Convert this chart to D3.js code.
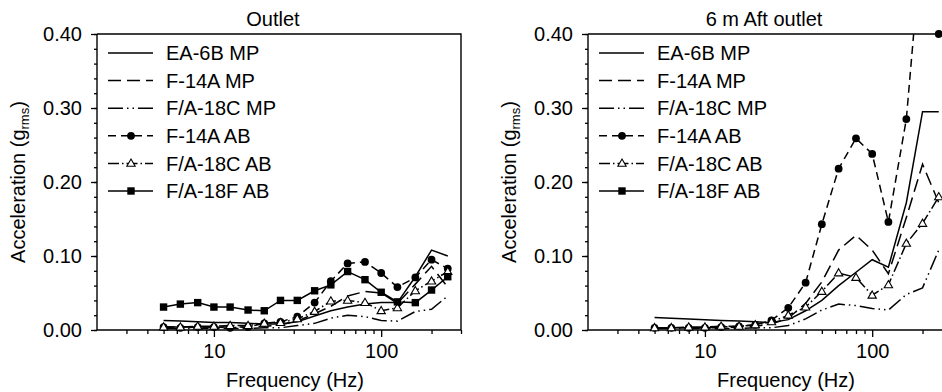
<!DOCTYPE html>
<html>
<head>
<meta charset="utf-8">
<script src="https://cdn.jsdelivr.net/npm/d3@7"></script>
<style>
  body { margin: 0; background: #fff; }
  svg { display: block; font-family: "Liberation Sans", Arial, Helvetica, sans-serif; }
</style>
</head>
<body>
<div id="chart"></div>
<script>
// 1/3 octave band centre frequencies (Hz)
var freqs = [5, 6.3, 8, 10, 12.5, 16, 20, 25, 31.5, 40, 50, 63, 80, 100, 125, 160, 200, 250];

var seriesNames = ["EA-6B MP", "F-14A MP", "F/A-18C MP", "F-14A AB", "F/A-18C AB", "F/A-18F AB"];
var panelTitles = ["Outlet", "6 m Aft outlet"];
var yTicks = [0, 0.1, 0.2, 0.3, 0.4];
var xLabelTicks = [10, 100];

// Outlet
var outletEA6BMP   = [0.013, 0.012, 0.011, 0.010, 0.010, 0.009, 0.008, 0.008, 0.011, 0.019, 0.026, 0.031, 0.035, 0.037, 0.037, 0.072, 0.108, 0.100];
var outletF14AMP   = [0.004, 0.004, 0.004, 0.004, 0.004, 0.004, 0.005, 0.007, 0.012, 0.022, 0.032, 0.046, 0.052, 0.050, 0.036, 0.062, 0.086, 0.058];
var outletFA18CMP  = [0.002, 0.002, 0.002, 0.002, 0.002, 0.002, 0.003, 0.003, 0.006, 0.009, 0.016, 0.020, 0.018, 0.013, 0.012, 0.025, 0.028, 0.046];
var outletF14AAB   = [0.004, 0.003, 0.004, 0.004, 0.003, 0.004, 0.009, 0.011, 0.018, 0.037, 0.066, 0.090, 0.092, 0.077, 0.058, 0.071, 0.095, 0.083];
var outletFA18CAB  = [0.004, 0.004, 0.005, 0.005, 0.006, 0.006, 0.009, 0.010, 0.015, 0.025, 0.039, 0.040, 0.037, 0.026, 0.030, 0.053, 0.066, 0.079];
var outletFA18FAB  = [0.031, 0.035, 0.037, 0.031, 0.031, 0.027, 0.026, 0.040, 0.040, 0.053, 0.061, 0.079, 0.068, 0.051, 0.038, 0.037, 0.054, 0.072];

// 6 m aft of outlet
var aftEA6BMP   = [0.017, 0.016, 0.015, 0.014, 0.013, 0.012, 0.011, 0.010, 0.014, 0.026, 0.040, 0.060, 0.078, 0.095, 0.085, 0.172, 0.295, 0.295];
var aftF14AMP   = [0.003, 0.003, 0.003, 0.003, 0.003, 0.004, 0.005, 0.008, 0.016, 0.036, 0.065, 0.108, 0.128, 0.108, 0.076, 0.152, 0.224, 0.172];
var aftFA18CMP  = [0.002, 0.002, 0.002, 0.002, 0.002, 0.002, 0.003, 0.003, 0.006, 0.015, 0.027, 0.035, 0.033, 0.029, 0.027, 0.048, 0.057, 0.108];
var aftF14AAB   = [0.003, 0.003, 0.003, 0.003, 0.004, 0.005, 0.007, 0.013, 0.030, 0.064, 0.143, 0.218, 0.259, 0.238, 0.146, 0.285, 0.540, 0.400];
var aftFA18CAB  = [0.003, 0.003, 0.004, 0.004, 0.005, 0.005, 0.007, 0.011, 0.020, 0.031, 0.052, 0.077, 0.071, 0.047, 0.061, 0.117, 0.144, 0.180];
var aftFA18FAB  = [];

var panelData = [
  [outletEA6BMP, outletF14AMP, outletFA18CMP, outletF14AAB, outletFA18CAB, outletFA18FAB],
  [aftEA6BMP, aftF14AMP, aftFA18CMP, aftF14AAB, aftFA18CAB, aftFA18FAB]
];

// line style per series
var seriesStyle = [
  {dash: null,               marker: null},
  {dash: "13,6",             marker: null},
  {dash: "15,4,1.5,4,1.5,4", marker: null},
  {dash: "8,5",              marker: "circle"},
  {dash: "11,3,1.5,3",       marker: "triangle"},
  {dash: null,               marker: "square"}
];

var width = 942, height = 392;
var plotTop = 34, plotBottom = 330, plotW = 364;
var panelLeft = [97, 588];
var fontFam = "'Liberation Sans', Arial, Helvetica, sans-serif";
var lw = 1.5;

var svg = d3.select("#chart").append("svg")
  .attr("width", width)
  .attr("height", height);

var y = d3.scaleLinear().domain([0, 0.4]).range([plotBottom, plotTop]);

function drawMarker(g, type, cx, cy) {
  if (type === "circle") {
    g.append("circle").attr("cx", cx).attr("cy", cy).attr("r", 3.9).attr("fill", "#000");
  } else if (type === "square") {
    g.append("rect").attr("x", cx - 3.7).attr("y", cy - 3.7).attr("width", 7.4).attr("height", 7.4).attr("fill", "#000");
  } else if (type === "triangle") {
    g.append("path")
      .attr("d", d3.symbol().type(d3.symbolTriangle).size(30)())
      .attr("transform", "translate(" + cx + "," + (cy + 0.5) + ")")
      .attr("fill", "#fff").attr("stroke", "#000").attr("stroke-width", 1.1);
  }
}

function drawPanel(p) {
  var x0 = panelLeft[p];
  var x = d3.scaleLog().domain([2, 300]).range([x0, x0 + plotW]);
  var g = svg.append("g");

  // clip for the lines
  g.append("clipPath").attr("id", "clip" + p)
    .append("rect").attr("x", x0).attr("y", plotTop).attr("width", plotW).attr("height", plotBottom - plotTop);

  // frame top / right
  g.append("path")
    .attr("d", "M" + x0 + "," + plotTop + "H" + (x0 + plotW) + "V" + plotBottom)
    .attr("fill", "none").attr("stroke", "#000").attr("stroke-width", 1.4);

  // x axis: minor ticks then major
  var minor = [3, 4, 5, 6, 7, 8, 9, 20, 30, 40, 50, 60, 70, 80, 90, 200, 300];
  var xMinor = g.append("g").attr("transform", "translate(0," + plotBottom + ")")
    .call(d3.axisBottom(x).tickValues(minor).tickSize(4).tickFormat(""));
  xMinor.select(".domain").remove();
  var xMajor = g.append("g").attr("transform", "translate(0," + plotBottom + ")")
    .call(d3.axisBottom(x).tickValues(xLabelTicks).tickSize(7).tickPadding(7).tickFormat(d3.format("d")));
  xMajor.select(".domain").attr("d", "M" + x0 + ",0H" + (x0 + plotW));

  // y axis
  var yMinor = g.append("g").attr("transform", "translate(" + x0 + ",0)")
    .call(d3.axisLeft(y).tickValues(d3.range(0, 0.401, 0.02)).tickSize(3).tickFormat(""));
  yMinor.select(".domain").remove();
  var yMajor = g.append("g").attr("transform", "translate(" + x0 + ",0)")
    .call(d3.axisLeft(y).tickValues(yTicks).tickSize(6).tickPadding(9).tickFormat(d3.format(".2f")));
  yMajor.select(".domain").attr("d", "M0," + plotTop + "V" + plotBottom);

  g.selectAll(".tick line").attr("stroke-width", 1.3);
  g.selectAll(".domain").attr("stroke-width", 1.4);
  g.selectAll(".tick text").attr("font-size", 20).attr("fill", "#000").attr("font-family", fontFam);

  // titles
  g.append("text").attr("x", x0 + plotW / 2 - 6).attr("y", 26)
    .attr("text-anchor", "middle").attr("font-size", 20).text(panelTitles[p]);
  g.append("text").attr("x", x0 + plotW / 2 + 16).attr("y", 387)
    .attr("text-anchor", "middle").attr("font-size", 20).text("Frequency (Hz)");
  var yl = g.append("text").attr("transform", "translate(" + (x0 - 72) + "," + ((plotTop + plotBottom) / 2) + ") rotate(-90)")
    .attr("text-anchor", "middle").attr("font-size", 20);
  yl.append("tspan").text("Acceleration (g");
  yl.append("tspan").attr("font-size", 13).attr("dy", 4).text("rms");
  yl.append("tspan").attr("dy", -4).text(")");

  // series
  var line = d3.line()
    .x(function(d) { return x(d[0]); })
    .y(function(d) { return y(d[1]); });

  var lines = g.append("g").attr("clip-path", "url(#clip" + p + ")");
  var marks = g.append("g");
  panelData[p].forEach(function(vals, i) {
    var pts = vals.map(function(v, k) { return [freqs[k], v]; });
    if (!pts.length) return;
    lines.append("path")
      .attr("d", line(pts))
      .attr("fill", "none")
      .attr("stroke", "#000")
      .attr("stroke-width", lw)
      .attr("stroke-dasharray", seriesStyle[i].dash);
    if (seriesStyle[i].marker) {
      pts.forEach(function(d) {
        if (d[1] <= 0.4) drawMarker(marks, seriesStyle[i].marker, x(d[0]), y(d[1]));
      });
    }
  });

  // legend
  var leg = g.append("g");
  seriesNames.forEach(function(name, i) {
    var ly = 53 + i * 27.6;
    var lx = x0 + 11;
    leg.append("line")
      .attr("x1", lx).attr("x2", lx + 45).attr("y1", ly).attr("y2", ly)
      .attr("stroke", "#000").attr("stroke-width", lw)
      .attr("stroke-dasharray", seriesStyle[i].dash);
    if (seriesStyle[i].marker) drawMarker(leg, seriesStyle[i].marker, lx + 23, ly);
    leg.append("text").attr("x", lx + 58).attr("y", ly).attr("dy", "0.36em")
      .attr("font-size", 20).text(name);
  });
}

drawPanel(0);
drawPanel(1);
</script>
</body>
</html>
